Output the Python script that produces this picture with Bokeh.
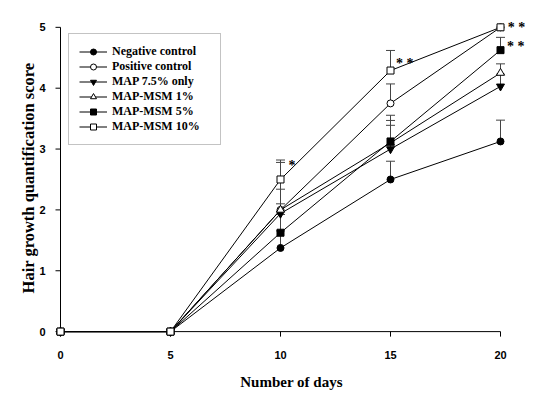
import math
from bokeh.plotting import figure
from bokeh.models import (Range1d, ColumnDataSource, Whisker, TeeHead, Legend, LegendItem,
                          FixedTicker)
from bokeh.core.properties import value
from bokeh.embed import file_html
from bokeh.resources import INLINE

# ---- data ----
days = [0, 5, 10, 15, 20]
series_names = ["Negative control", "Positive control", "MAP 7.5% only",
                "MAP-MSM 1%", "MAP-MSM 5%", "MAP-MSM 10%"]
neg = [0, 0, 1.375, 2.5, 3.125]
neg_err = [0, 0, 0.28, 0.30, 0.35]
pos = [0, 0, 2.0, 3.75, 5.0]
pos_err = [0, 0, 0.34, 0.32, 0]
map75 = [0, 0, 1.94, 3.0, 4.03]
map75_err = [0, 0, 0.84, 0.39, 0.2]
msm1 = [0, 0, 2.0, 3.1, 4.25]
msm1_err = [0, 0, 0.1, 0.37, 0.15]
msm5 = [0, 0, 1.625, 3.125, 4.625]
msm5_err = [0, 0, 0.3, 0.43, 0.21]
msm10 = [0, 0, 2.5, 4.29, 5.0]
msm10_err = [0, 0, 0.32, 0.33, 0]

x_ticks = [0, 5, 10, 15, 20]
y_ticks = [0, 1, 2, 3, 4, 5]
x_title = "Number of days"
y_title = "Hair growth quantification score"

# significance marks
star_text = ["*", "* *", "* *", "* *"]
star_x = [10.36, 15.25, 20.33, 20.3]
star_y = [2.73, 4.4, 5.0, 4.68]

# ---- styles ----
values = [neg, pos, map75, msm1, msm5, msm10]
errors = [neg_err, pos_err, map75_err, msm1_err, msm5_err, msm10_err]
markers = ["circle", "circle", "inverted_triangle", "triangle", "square", "square"]
fills = ["black", "white", "black", "white", "black", "white"]
sizes = [7, 7, 8, 8, 7, 7]

p = figure(width=534, height=392, output_backend="svg", toolbar_location=None,
           x_range=Range1d(-8 / 22, 470 / 22), y_range=Range1d(-8 / 61.8, 5 + 11 / 61.8),
           min_border_left=52, min_border_right=4, min_border_top=16, min_border_bottom=48)
p.outline_line_color = None
p.xgrid.grid_line_color = None
p.ygrid.grid_line_color = None
p.background_fill_color = "white"
p.border_fill_color = "white"

for ax, ticks, lbl, so, lso, fs in [(p.xaxis[0], x_ticks, x_title, 5, 12, "15px"),
                                    (p.yaxis[0], y_ticks, y_title, 1, -2, "16.5px")]:
    ax.ticker = FixedTicker(ticks=ticks)
    ax.axis_label = lbl
    ax.axis_label_text_font = "Liberation Serif"
    ax.axis_label_text_font_style = "bold"
    ax.axis_label_text_font_size = fs
    ax.axis_label_text_color = "black"
    ax.axis_label_standoff = lso
    ax.major_label_text_font = "Liberation Sans"
    ax.major_label_text_font_style = "bold"
    ax.major_label_text_font_size = "11px"
    ax.major_label_text_color = "black"
    ax.major_label_standoff = so
    ax.major_tick_line_color = None
    ax.minor_tick_line_color = None
    ax.axis_line_color = None

# axis lines and outward ticks drawn at the data origin
p.segment(x0=[x_ticks[0], x_ticks[0]], y0=[y_ticks[0], y_ticks[0]],
          x1=[x_ticks[-1], x_ticks[0]], y1=[y_ticks[0], y_ticks[-1]],
          line_color="black", line_width=1)
p.ray(x=x_ticks, y=[y_ticks[0]] * len(x_ticks), length=5, length_units="screen",
      angle=-math.pi / 2, line_color="black", line_width=1)
p.ray(x=[x_ticks[0]] * len(y_ticks), y=y_ticks, length=5, length_units="screen",
      angle=math.pi, line_color="black", line_width=1)

# error bars (upward only)
for ys, es in zip(values, errors):
    bx = [d for d, e in zip(days, es) if e > 0]
    lo = [y for y, e in zip(ys, es) if e > 0]
    up = [y + e for y, e in zip(ys, es) if e > 0]
    src = ColumnDataSource(dict(base=bx, lower=lo, upper=up))
    w = Whisker(source=src, base="base", lower="lower", upper="upper", dimension="height",
                line_color="#444444", line_width=1,
                upper_head=TeeHead(size=9, line_color="#444444", line_width=1),
                lower_head=None, level="underlay")
    p.add_layout(w)

line_rs = []
for ys in values:
    line_rs.append(p.line(days, ys, line_color="black", line_width=1))

scat_rs = []
for ys, m, f, s in zip(values, markers, fills, sizes):
    scat_rs.append(p.scatter(days, ys, marker=m, size=s, fill_color=f,
                             line_color="black", line_width=1))

p.text(star_x, star_y, text=star_text, text_font=value("Liberation Serif"),
       text_font_style="bold", text_font_size="14px", text_color="black",
       text_baseline="alphabetic", text_align="left")

items = [LegendItem(label=n, renderers=[lr, sr])
         for n, lr, sr in zip(series_names, line_rs, scat_rs)]
legend = Legend(items=items, location=(16, 194), margin=0, padding=10, spacing=0,
                glyph_width=28, glyph_height=15, label_height=15, label_standoff=5,
                label_width=98,
                label_text_font="Liberation Serif", label_text_font_style="bold",
                label_text_font_size="12px", label_text_color="black",
                border_line_color="#888888", border_line_width=1,
                background_fill_color="white", background_fill_alpha=1)
p.add_layout(legend, "center")

open("out.html", "w").write(file_html(p, INLINE))
